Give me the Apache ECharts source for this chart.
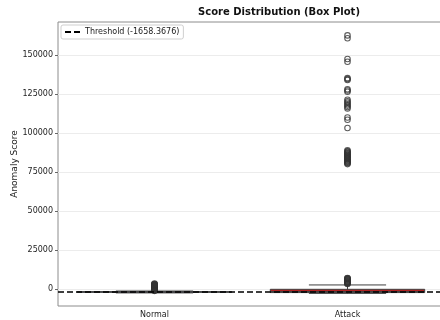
<!DOCTYPE html>
<html>
<head>
<meta charset="utf-8">
<script src="https://cdn.jsdelivr.net/npm/echarts@6/dist/echarts.min.js"></script>
<style>
  html, body { margin: 0; padding: 0; background: #fff; }
  #chart { width: 440px; height: 320px; }
</style>
</head>
<body>
<div id="chart"></div>
<script>
// Groups on the x axis
const categories = ['Normal', 'Attack'];

// Box statistics per group: [whisker low, Q1, median, Q3, whisker high]
const boxStats = [
  [-2500, -2050, -1900, -1750, -1300],
  [-2800, -2300, -1600, -200, 2600]
];

// Fill colour of each box
const boxColors = ['#4c72b0', '#b22222'];

// Outlying scores per group
const normalOutliers = [
  -1200, -1000, -800, -600, -400, -200, 0, 200, 400, 600, 800, 1000, 1200,
  1400, 1600, 1800, 2000, 2200, 2400, 2600, 2800, 3000, 3200, 3500
];
const attackOutliers = [
  3200, 3500, 3800, 4100, 4400, 4700, 5000, 5300, 5600, 5900, 6200, 6500, 6800, 7000,
  80100, 80600, 81000, 81500, 82000, 82400, 82900, 83300, 83800, 84200, 84700,
  85100, 85600, 86000, 86500, 87000, 87400, 87900, 88300, 88900,
  103200, 108500, 110000,
  115800, 116700, 117600, 118500, 119400, 120300, 121300,
  126500, 127300, 128000,
  134000, 134600, 135200,
  145700, 147500,
  160800, 162600
];

// Decision threshold
const threshold = -1658.3676;

// Axis range and tick labels
const yMin = -10900;
const yMax = 171200;
const yTicks = [0, 25000, 50000, 75000, 100000, 125000, 150000];

const boxData = boxStats.map((s, i) => [i].concat(s));
const outlierData = []
  .concat(normalOutliers.map(v => [0, v]))
  .concat(attackOutliers.map(v => [1, v]));

function renderBox(params, api) {
  const idx = api.value(0);
  const low = api.coord([idx, api.value(1)]);
  const q1 = api.coord([idx, api.value(2)]);
  const med = api.coord([idx, api.value(3)]);
  const q3 = api.coord([idx, api.value(4)]);
  const high = api.coord([idx, api.value(5)]);
  const band = api.size([1, 0])[0];
  const bw = band * 0.8;
  const cw = bw * 0.5;
  const cx = q1[0];
  const edge = { stroke: '#3f3f3f', lineWidth: 1 };
  return {
    type: 'group',
    children: [
      { type: 'line', shape: { x1: cx, y1: q1[1], x2: cx, y2: low[1] }, style: edge },
      { type: 'line', shape: { x1: cx, y1: q3[1], x2: cx, y2: high[1] }, style: edge },
      { type: 'line', shape: { x1: cx - cw / 2, y1: low[1], x2: cx + cw / 2, y2: low[1] }, style: edge },
      { type: 'line', shape: { x1: cx - cw / 2, y1: high[1], x2: cx + cw / 2, y2: high[1] }, style: edge },
      {
        type: 'rect',
        shape: { x: cx - bw / 2, y: q3[1], width: bw, height: Math.max(q1[1] - q3[1], 0.5) },
        style: { fill: boxColors[idx], stroke: '#3f3f3f', lineWidth: 1 }
      },
      { type: 'line', shape: { x1: cx - bw / 2, y1: med[1], x2: cx + bw / 2, y2: med[1] }, style: edge }
    ]
  };
}

const chart = echarts.init(document.getElementById('chart'), null, { renderer: 'canvas' });
const font = 'DejaVu Sans';

chart.setOption({
  animation: false,
  backgroundColor: '#ffffff',
  title: {
    text: 'Score Distribution (Box Plot)',
    left: 274,
    top: 2,
    textAlign: 'center',
    textStyle: { fontFamily: font, fontSize: 10, fontWeight: 'bold', color: '#111' }
  },
  legend: {
    left: 61,
    top: 25,
    padding: [3, 4, 3, 4],
    itemWidth: 15,
    itemHeight: 2,
    itemGap: 6,
    borderColor: '#cfcfcf',
    borderWidth: 1,
    borderRadius: 2,
    backgroundColor: '#fff',
    textStyle: { fontFamily: font, fontSize: 8, color: '#222' },
    data: [{ name: 'Threshold (-1658.3676)', icon: 'path://M0,0h6v2h-6z M9,0h6v2h-6z', itemStyle: { color: '#000' } }]
  },
  grid: {
    left: 58,
    top: 22,
    width: 386,
    height: 284,
    outerBoundsMode: 'none',
    containLabel: false,
    show: true,
    borderColor: '#8c8c8c',
    borderWidth: 1,
    backgroundColor: 'transparent'
  },
  xAxis: {
    type: 'category',
    data: categories,
    boundaryGap: true,
    axisLine: { show: false },
    axisTick: { show: true, alignWithLabel: true, length: 3, lineStyle: { color: '#666' } },
    axisLabel: { fontFamily: font, fontSize: 8, color: '#222', margin: 5 },
    splitLine: { show: false }
  },
  yAxis: {
    type: 'value',
    min: yMin,
    max: yMax,
    name: 'Anomaly Score',
    nameLocation: 'middle',
    nameGap: 39,
    nameMoveOverlap: false,
    nameTextStyle: { fontFamily: font, fontSize: 9, color: '#222' },
    axisLine: { show: false },
    axisTick: { show: true, length: 3, customValues: yTicks, lineStyle: { color: '#666' } },
    axisLabel: {
      fontFamily: font, fontSize: 8, color: '#222', margin: 5,
      customValues: yTicks,
      formatter: v => String(v)
    },
    splitLine: { show: true, lineStyle: { color: '#ececec', width: 1 } }
  },
  series: [
    {
      type: 'custom',
      name: 'boxes',
      renderItem: renderBox,
      data: boxData,
      encode: { x: 0, y: [1, 2, 3, 4, 5] },
      z: 2
    },
    {
      type: 'scatter',
      name: 'outliers',
      data: outlierData,
      symbol: 'circle',
      symbolSize: 5.5,
      itemStyle: { color: 'rgba(255,255,255,0)', borderColor: '#333', borderWidth: 1.1 },
      z: 3
    },
    {
      type: 'line',
      name: 'Threshold (-1658.3676)',
      data: [],
      itemStyle: { color: '#000' },
      markLine: {
        silent: true,
        symbol: ['none', 'none'],
        label: { show: false },
        lineStyle: { color: '#000', width: 1.6, type: [6, 3] },
        data: [{ yAxis: threshold }]
      },
      z: 5
    }
  ]
});
</script>
</body>
</html>
